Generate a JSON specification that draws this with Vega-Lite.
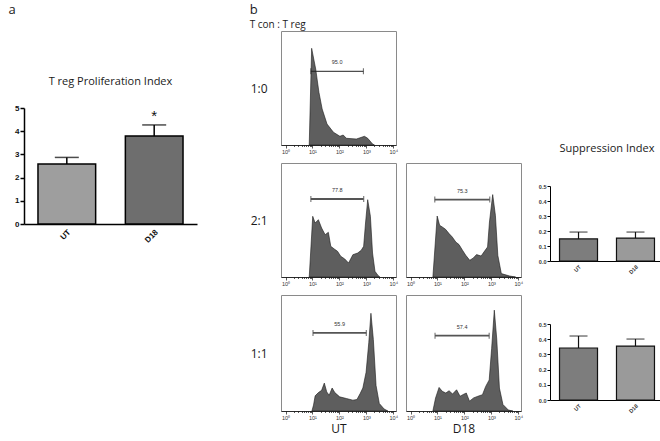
{
  "$schema": "https://vega.github.io/schema/vega-lite/v6.json",
  "background": "white",
  "padding": {"left": 8, "top": 3, "right": 2, "bottom": 1},
  "spacing": 52,
  "resolve": {"scale": {"color": "independent"}},
  "datasets": {
    "prolif": [
      {"group": "UT", "mean": 2.59, "upper": 2.87, "sig": ""},
      {"group": "D18", "mean": 3.79, "upper": 4.27, "sig": "*"}
    ],
    "supp": [
      {"ratio": "2:1", "group": "UT", "mean": 0.147, "upper": 0.193},
      {"ratio": "2:1", "group": "D18", "mean": 0.153, "upper": 0.193},
      {"ratio": "1:1", "group": "UT", "mean": 0.342, "upper": 0.421},
      {"ratio": "1:1", "group": "D18", "mean": 0.355, "upper": 0.401}
    ],
    "gates": [
      {"panel": "1:0", "x": 8.71, "xr": 776.2, "count": 73.7, "label": "95.0"},
      {"panel": "2:1 UT", "x": 8.71, "xr": 794.3, "count": 78, "label": "77.8"},
      {"panel": "2:1 D18", "x": 7.94, "xr": 871, "count": 77.4, "label": "75.3"},
      {"panel": "1:1 UT", "x": 10.47, "xr": 1000, "count": 79.4, "label": "55.9"},
      {"panel": "1:1 D18", "x": 8.13, "xr": 831.8, "count": 76.6, "label": "57.4"}
    ],
    "hist": [
      {"panel": "1:0", "x": 7.59, "count": 0},
      {"panel": "1:0", "x": 9.33, "count": 96.7},
      {"panel": "1:0", "x": 13.18, "count": 76},
      {"panel": "1:0", "x": 17.38, "count": 52.7},
      {"panel": "1:0", "x": 22.91, "count": 36},
      {"panel": "1:0", "x": 34.67, "count": 21},
      {"panel": "1:0", "x": 60.26, "count": 12.7},
      {"panel": "1:0", "x": 104.7, "count": 8.7},
      {"panel": "1:0", "x": 138, "count": 10},
      {"panel": "1:0", "x": 182, "count": 6.7},
      {"panel": "1:0", "x": 426.6, "count": 6},
      {"panel": "1:0", "x": 851.1, "count": 8.7},
      {"panel": "1:0", "x": 1122, "count": 6.7},
      {"panel": "1:0", "x": 1698, "count": 1},
      {"panel": "1:0", "x": 1995, "count": 0},

      {"panel": "2:1 UT", "x": 7.59, "count": 0},
      {"panel": "2:1 UT", "x": 10.23, "count": 60.7},
      {"panel": "2:1 UT", "x": 12.59, "count": 54},
      {"panel": "2:1 UT", "x": 16.6, "count": 57.3},
      {"panel": "2:1 UT", "x": 21.88, "count": 49},
      {"panel": "2:1 UT", "x": 29.51, "count": 42.3},
      {"panel": "2:1 UT", "x": 38.9, "count": 44.7},
      {"panel": "2:1 UT", "x": 47.86, "count": 30.7},
      {"panel": "2:1 UT", "x": 64.57, "count": 28},
      {"panel": "2:1 UT", "x": 85.11, "count": 25.7},
      {"panel": "2:1 UT", "x": 112.2, "count": 20.7},
      {"panel": "2:1 UT", "x": 158.5, "count": 18},
      {"panel": "2:1 UT", "x": 218.8, "count": 14},
      {"panel": "2:1 UT", "x": 316.2, "count": 22.3},
      {"panel": "2:1 UT", "x": 478.6, "count": 24},
      {"panel": "2:1 UT", "x": 645.7, "count": 26.7},
      {"panel": "2:1 UT", "x": 794.3, "count": 30.7},
      {"panel": "2:1 UT", "x": 933.3, "count": 54},
      {"panel": "2:1 UT", "x": 1122, "count": 77.3},
      {"panel": "2:1 UT", "x": 1413, "count": 60.7},
      {"panel": "2:1 UT", "x": 1698, "count": 24},
      {"panel": "2:1 UT", "x": 2089, "count": 5.7},
      {"panel": "2:1 UT", "x": 2630, "count": 2},
      {"panel": "2:1 UT", "x": 3162, "count": 0},

      {"panel": "2:1 D18", "x": 6.76, "count": 0},
      {"panel": "2:1 D18", "x": 9.77, "count": 61},
      {"panel": "2:1 D18", "x": 12.02, "count": 51.7},
      {"panel": "2:1 D18", "x": 15.14, "count": 50},
      {"panel": "2:1 D18", "x": 19.95, "count": 47.7},
      {"panel": "2:1 D18", "x": 26.92, "count": 43.4},
      {"panel": "2:1 D18", "x": 35.48, "count": 40},
      {"panel": "2:1 D18", "x": 47.86, "count": 35},
      {"panel": "2:1 D18", "x": 63.1, "count": 32.4},
      {"panel": "2:1 D18", "x": 85.11, "count": 26.7},
      {"panel": "2:1 D18", "x": 112.2, "count": 21.7},
      {"panel": "2:1 D18", "x": 158.5, "count": 16.7},
      {"panel": "2:1 D18", "x": 213.8, "count": 19},
      {"panel": "2:1 D18", "x": 281.8, "count": 22.4},
      {"panel": "2:1 D18", "x": 416.9, "count": 21},
      {"panel": "2:1 D18", "x": 588.8, "count": 26.7},
      {"panel": "2:1 D18", "x": 724.4, "count": 30},
      {"panel": "2:1 D18", "x": 851.1, "count": 55},
      {"panel": "2:1 D18", "x": 1122, "count": 82.4},
      {"panel": "2:1 D18", "x": 1413, "count": 61.7},
      {"panel": "2:1 D18", "x": 1738, "count": 21.7},
      {"panel": "2:1 D18", "x": 2344, "count": 3.4},
      {"panel": "2:1 D18", "x": 4786, "count": 1},
      {"panel": "2:1 D18", "x": 7943, "count": 0},

      {"panel": "1:1 UT", "x": 9.55, "count": 0},
      {"panel": "1:1 UT", "x": 10.96, "count": 6},
      {"panel": "1:1 UT", "x": 12.59, "count": 15.4},
      {"panel": "1:1 UT", "x": 16.6, "count": 18.7},
      {"panel": "1:1 UT", "x": 21.88, "count": 21},
      {"panel": "1:1 UT", "x": 27.54, "count": 28.4},
      {"panel": "1:1 UT", "x": 33.88, "count": 19.4},
      {"panel": "1:1 UT", "x": 41.69, "count": 16},
      {"panel": "1:1 UT", "x": 53.7, "count": 23.4},
      {"panel": "1:1 UT", "x": 67.61, "count": 18.7},
      {"panel": "1:1 UT", "x": 102.3, "count": 14.4},
      {"panel": "1:1 UT", "x": 182, "count": 12.7},
      {"panel": "1:1 UT", "x": 316.2, "count": 11},
      {"panel": "1:1 UT", "x": 446.7, "count": 11.7},
      {"panel": "1:1 UT", "x": 588.8, "count": 17.7},
      {"panel": "1:1 UT", "x": 741.3, "count": 23.4},
      {"panel": "1:1 UT", "x": 977.2, "count": 39.4},
      {"panel": "1:1 UT", "x": 1230, "count": 69.4},
      {"panel": "1:1 UT", "x": 1479, "count": 99.4},
      {"panel": "1:1 UT", "x": 1820, "count": 72.7},
      {"panel": "1:1 UT", "x": 2291, "count": 26},
      {"panel": "1:1 UT", "x": 3020, "count": 7.7},
      {"panel": "1:1 UT", "x": 4571, "count": 2},
      {"panel": "1:1 UT", "x": 6310, "count": 0},

      {"panel": "1:1 D18", "x": 6.76, "count": 0},
      {"panel": "1:1 D18", "x": 8.51, "count": 13.3},
      {"panel": "1:1 D18", "x": 11.48, "count": 24},
      {"panel": "1:1 D18", "x": 15.14, "count": 20},
      {"panel": "1:1 D18", "x": 20.42, "count": 18.3},
      {"panel": "1:1 D18", "x": 26.92, "count": 20.6},
      {"panel": "1:1 D18", "x": 36.31, "count": 17.3},
      {"panel": "1:1 D18", "x": 51.29, "count": 21.6},
      {"panel": "1:1 D18", "x": 69.18, "count": 15},
      {"panel": "1:1 D18", "x": 87.1, "count": 16.6},
      {"panel": "1:1 D18", "x": 117.5, "count": 18.3},
      {"panel": "1:1 D18", "x": 154.9, "count": 10},
      {"panel": "1:1 D18", "x": 218.8, "count": 13.3},
      {"panel": "1:1 D18", "x": 316.2, "count": 15},
      {"panel": "1:1 D18", "x": 467.7, "count": 16.6},
      {"panel": "1:1 D18", "x": 616.6, "count": 25},
      {"panel": "1:1 D18", "x": 831.8, "count": 31.6},
      {"panel": "1:1 D18", "x": 1023, "count": 63.3},
      {"panel": "1:1 D18", "x": 1288, "count": 102.6},
      {"panel": "1:1 D18", "x": 1585, "count": 73.3},
      {"panel": "1:1 D18", "x": 1995, "count": 23.3},
      {"panel": "1:1 D18", "x": 2692, "count": 6.6},
      {"panel": "1:1 D18", "x": 4266, "count": 1},
      {"panel": "1:1 D18", "x": 6310, "count": 0}
    ]
  },
  "hconcat": [
    {
      "title": {"text": "a", "anchor": "start", "fontSize": 13, "offset": 14, "dx": -6},
      "spacing": 20,
      "vconcat": [
        {"width": 10, "height": 25, "view": {"stroke": null}, "data": {"values": []}, "mark": "point", "encoding": {}},
        {
          "title": {"text": "T reg Proliferation Index", "fontSize": 11, "offset": 17},
          "width": 173,
          "height": 116,
          "view": {"stroke": null},
          "data": {"name": "prolif"},
          "resolve": {"axis": {"y": "independent"}},
          "encoding": {
            "x": {"field": "group", "type": "nominal", "sort": ["UT", "D18"],
              "scale": {"paddingInner": 0.34, "paddingOuter": 0.16},
              "axis": {"title": null, "labelAngle": -45, "labelFontWeight": "bold", "labelFontSize": 8, "labelColor": "#111", "domainColor": "#000", "domainWidth": 1.5, "ticks": false, "labelPadding": 4}}
          },
          "layer": [
            {"mark": {"type": "bar", "stroke": "#000", "strokeWidth": 1.5},
             "encoding": {
               "y": {"field": "mean", "type": "quantitative", "scale": {"domain": [0, 5], "nice": false},
                 "axis": {"title": null, "values": [0, 1, 2, 3, 4, 5], "labelFontWeight": "bold", "labelFontSize": 8, "labelColor": "#111", "domainColor": "#000", "domainWidth": 1.5, "tickColor": "#000", "tickWidth": 1.5, "tickSize": 4, "labelPadding": 1}},
               "color": {"field": "group", "type": "nominal", "scale": {"domain": ["UT", "D18"], "range": ["#9e9e9e", "#6e6e6e"]}, "legend": null}}},
            {"mark": {"type": "rule", "strokeWidth": 1.5, "color": "#000"},
             "encoding": {"y": {"field": "mean", "type": "quantitative", "scale": {"domain": [0, 5], "nice": false}, "axis": null}, "y2": {"field": "upper"}}},
            {"mark": {"type": "tick", "size": 24, "thickness": 1.5, "color": "#000"},
             "encoding": {"y": {"field": "upper", "type": "quantitative", "scale": {"domain": [0, 5], "nice": false}, "axis": null}}},
            {"mark": {"type": "text", "dy": -9, "fontSize": 15, "font": "Liberation Sans", "color": "#111"},
             "encoding": {"y": {"field": "upper", "type": "quantitative", "scale": {"domain": [0, 5], "nice": false}, "axis": null}, "text": {"field": "sig"}}}
          ]
        }
      ]
    },
    {
      "title": {"text": "b", "subtitle": "T con : T reg", "anchor": "start", "fontSize": 13, "subtitleFontSize": 10, "subtitleFont": "Open Sans", "subtitleColor": "#1a1a1a", "subtitlePadding": 3, "offset": 1},
      "spacing": 14,
      "hconcat": [
        {
          "spacing": 7,
          "vconcat": [
            {
              "width": 115, "height": 114,
              "resolve": {"axis": {"x": "independent", "y": "independent"}},
              "layer": [
                {"data": {"name": "hist"}, "transform": [{"filter": "datum.panel=='1:0'"}],
                 "mark": {"type": "area", "fill": "#5e5e5e", "stroke": "#1a1a1a", "strokeWidth": 0.6},
                 "encoding": {
                   "x": {"field": "x", "type": "quantitative", "scale": {"type": "log", "domain": [0.68, 12600], "nice": false},
                     "axis": {"title": null, "values": [1,2,3,4,5,6,7,8,9,10,20,30,40,50,60,70,80,90,100,200,300,400,500,600,700,800,900,1000,2000,3000,4000,5000,6000,7000,8000,9000,10000], "labelExpr": "datum.value==1?'10⁰':datum.value==10?'10¹':datum.value==100?'10²':datum.value==1000?'10³':datum.value==10000?'10⁴':''", "tickSize": {"condition": {"test": "indexof([1,10,100,1000,10000],datum.value)>=0", "value": 3}, "value": 1.5}, "labelFontSize": 5.5, "labelColor": "#333", "labelPadding": 1, "labelOverlap": false, "labelFlush": false, "domainColor": "#111", "tickColor": "#111", "tickWidth": 0.7, "domainWidth": 0.8}},
                   "y": {"field": "count", "type": "quantitative", "scale": {"domain": [0, 114], "nice": false},
                     "axis": {"title": "1:0", "titleAngle": 0, "titleAlign": "right", "titleBaseline": "middle", "titleFont": "Open Sans", "titleFontWeight": "normal", "titleFontSize": 12, "titleColor": "#1a1a1a", "titlePadding": 14, "labels": false, "ticks": false, "domain": false}}
                 }},
                {"data": {"name": "gates"}, "transform": [{"filter": "datum.panel=='1:0'"}, {"calculate": "sqrt(datum.x*datum.xr)", "as": "xm"}],
                 "resolve": {"axis": {"x": "independent", "y": "independent"}},
                 "encoding": {"y": {"field": "count", "type": "quantitative", "scale": {"domain": [0, 114], "nice": false}, "axis": null}},
                 "layer": [
                   {"mark": {"type": "rule", "stroke": "#222", "strokeWidth": 1}, "encoding": {"x": {"field": "x", "type": "quantitative", "scale": {"type": "log", "domain": [0.68, 12600], "nice": false}, "axis": null}, "x2": {"field": "xr"}}},
                   {"mark": {"type": "tick", "orient": "vertical", "size": 6, "thickness": 1, "color": "#222"}, "encoding": {"x": {"field": "x", "type": "quantitative", "scale": {"type": "log", "domain": [0.68, 12600], "nice": false}, "axis": null}}},
                   {"mark": {"type": "tick", "orient": "vertical", "size": 6, "thickness": 1, "color": "#222"}, "encoding": {"x": {"field": "xr", "type": "quantitative", "scale": {"type": "log", "domain": [0.68, 12600], "nice": false}, "axis": null}}},
                   {"mark": {"type": "text", "dy": -9, "fontSize": 5.5, "color": "#333"}, "encoding": {"x": {"field": "xm", "type": "quantitative", "scale": {"type": "log", "domain": [0.68, 12600], "nice": false}, "axis": null}, "text": {"field": "label"}}}
                 ]}
              ]
            },
            {
              "spacing": 6,
              "hconcat": [
                {
                  "width": 115, "height": 114,
                  "resolve": {"axis": {"x": "independent", "y": "independent"}},
                  "layer": [
                    {"data": {"name": "hist"}, "transform": [{"filter": "datum.panel=='2:1 UT'"}],
                     "mark": {"type": "area", "fill": "#5e5e5e", "stroke": "#1a1a1a", "strokeWidth": 0.6},
                     "encoding": {
                       "x": {"field": "x", "type": "quantitative", "scale": {"type": "log", "domain": [0.68, 12600], "nice": false},
                         "axis": {"title": null, "values": [1,2,3,4,5,6,7,8,9,10,20,30,40,50,60,70,80,90,100,200,300,400,500,600,700,800,900,1000,2000,3000,4000,5000,6000,7000,8000,9000,10000], "labelExpr": "datum.value==1?'10⁰':datum.value==10?'10¹':datum.value==100?'10²':datum.value==1000?'10³':datum.value==10000?'10⁴':''", "tickSize": {"condition": {"test": "indexof([1,10,100,1000,10000],datum.value)>=0", "value": 3}, "value": 1.5}, "labelFontSize": 5.5, "labelColor": "#333", "labelPadding": 1, "labelOverlap": false, "labelFlush": false, "domainColor": "#111", "tickColor": "#111", "tickWidth": 0.7, "domainWidth": 0.8}},
                       "y": {"field": "count", "type": "quantitative", "scale": {"domain": [0, 114], "nice": false},
                         "axis": {"title": "2:1", "titleAngle": 0, "titleAlign": "right", "titleBaseline": "middle", "titleFont": "Open Sans", "titleFontWeight": "normal", "titleFontSize": 12, "titleColor": "#1a1a1a", "titlePadding": 14, "labels": false, "ticks": false, "domain": false}}
                     }},
                    {"data": {"name": "gates"}, "transform": [{"filter": "datum.panel=='2:1 UT'"}, {"calculate": "sqrt(datum.x*datum.xr)", "as": "xm"}],
                     "resolve": {"axis": {"x": "independent", "y": "independent"}},
                     "encoding": {"y": {"field": "count", "type": "quantitative", "scale": {"domain": [0, 114], "nice": false}, "axis": null}},
                     "layer": [
                       {"mark": {"type": "rule", "stroke": "#555", "strokeWidth": 1.8}, "encoding": {"x": {"field": "x", "type": "quantitative", "scale": {"type": "log", "domain": [0.68, 12600], "nice": false}, "axis": null}, "x2": {"field": "xr"}}},
                       {"mark": {"type": "tick", "orient": "vertical", "size": 6, "thickness": 1.3, "color": "#555"}, "encoding": {"x": {"field": "x", "type": "quantitative", "scale": {"type": "log", "domain": [0.68, 12600], "nice": false}, "axis": null}}},
                       {"mark": {"type": "tick", "orient": "vertical", "size": 6, "thickness": 1.3, "color": "#555"}, "encoding": {"x": {"field": "xr", "type": "quantitative", "scale": {"type": "log", "domain": [0.68, 12600], "nice": false}, "axis": null}}},
                       {"mark": {"type": "text", "dy": -9, "fontSize": 5.5, "color": "#333"}, "encoding": {"x": {"field": "xm", "type": "quantitative", "scale": {"type": "log", "domain": [0.68, 12600], "nice": false}, "axis": null}, "text": {"field": "label"}}}
                     ]}
                  ]
                },
                {
                  "width": 115, "height": 114,
                  "resolve": {"axis": {"x": "independent", "y": "independent"}},
                  "layer": [
                    {"data": {"name": "hist"}, "transform": [{"filter": "datum.panel=='2:1 D18'"}],
                     "mark": {"type": "area", "fill": "#5e5e5e", "stroke": "#1a1a1a", "strokeWidth": 0.6},
                     "encoding": {
                       "x": {"field": "x", "type": "quantitative", "scale": {"type": "log", "domain": [0.68, 12600], "nice": false},
                         "axis": {"title": null, "values": [1,2,3,4,5,6,7,8,9,10,20,30,40,50,60,70,80,90,100,200,300,400,500,600,700,800,900,1000,2000,3000,4000,5000,6000,7000,8000,9000,10000], "labelExpr": "datum.value==1?'10⁰':datum.value==10?'10¹':datum.value==100?'10²':datum.value==1000?'10³':datum.value==10000?'10⁴':''", "tickSize": {"condition": {"test": "indexof([1,10,100,1000,10000],datum.value)>=0", "value": 3}, "value": 1.5}, "labelFontSize": 5.5, "labelColor": "#333", "labelPadding": 1, "labelOverlap": false, "labelFlush": false, "domainColor": "#111", "tickColor": "#111", "tickWidth": 0.7, "domainWidth": 0.8}},
                       "y": {"field": "count", "type": "quantitative", "scale": {"domain": [0, 114], "nice": false}, "axis": null}
                     }},
                    {"data": {"name": "gates"}, "transform": [{"filter": "datum.panel=='2:1 D18'"}, {"calculate": "sqrt(datum.x*datum.xr)", "as": "xm"}],
                     "resolve": {"axis": {"x": "independent", "y": "independent"}},
                     "encoding": {"y": {"field": "count", "type": "quantitative", "scale": {"domain": [0, 114], "nice": false}, "axis": null}},
                     "layer": [
                       {"mark": {"type": "rule", "stroke": "#555", "strokeWidth": 1.8}, "encoding": {"x": {"field": "x", "type": "quantitative", "scale": {"type": "log", "domain": [0.68, 12600], "nice": false}, "axis": null}, "x2": {"field": "xr"}}},
                       {"mark": {"type": "tick", "orient": "vertical", "size": 6, "thickness": 1.3, "color": "#555"}, "encoding": {"x": {"field": "x", "type": "quantitative", "scale": {"type": "log", "domain": [0.68, 12600], "nice": false}, "axis": null}}},
                       {"mark": {"type": "tick", "orient": "vertical", "size": 6, "thickness": 1.3, "color": "#555"}, "encoding": {"x": {"field": "xr", "type": "quantitative", "scale": {"type": "log", "domain": [0.68, 12600], "nice": false}, "axis": null}}},
                       {"mark": {"type": "text", "dy": -9, "fontSize": 5.5, "color": "#333"}, "encoding": {"x": {"field": "xm", "type": "quantitative", "scale": {"type": "log", "domain": [0.68, 12600], "nice": false}, "axis": null}, "text": {"field": "label"}}}
                     ]}
                  ]
                }
              ]
            },
            {
              "spacing": 6,
              "hconcat": [
                {
                  "width": 115, "height": 116,
                  "resolve": {"axis": {"x": "independent", "y": "independent"}},
                  "layer": [
                    {"data": {"name": "hist"}, "transform": [{"filter": "datum.panel=='1:1 UT'"}],
                     "mark": {"type": "area", "fill": "#5e5e5e", "stroke": "#1a1a1a", "strokeWidth": 0.6},
                     "encoding": {
                       "x": {"field": "x", "type": "quantitative", "scale": {"type": "log", "domain": [0.68, 12600], "nice": false},
                         "axis": {"title": "UT", "titleFont": "Open Sans", "titleFontWeight": "normal", "titleFontSize": 12, "titleColor": "#1a1a1a", "titlePadding": 3, "values": [1,2,3,4,5,6,7,8,9,10,20,30,40,50,60,70,80,90,100,200,300,400,500,600,700,800,900,1000,2000,3000,4000,5000,6000,7000,8000,9000,10000], "labelExpr": "datum.value==1?'10⁰':datum.value==10?'10¹':datum.value==100?'10²':datum.value==1000?'10³':datum.value==10000?'10⁴':''", "tickSize": {"condition": {"test": "indexof([1,10,100,1000,10000],datum.value)>=0", "value": 3}, "value": 1.5}, "labelFontSize": 5.5, "labelColor": "#333", "labelPadding": 1, "labelOverlap": false, "labelFlush": false, "domainColor": "#111", "tickColor": "#111", "tickWidth": 0.7, "domainWidth": 0.8}},
                       "y": {"field": "count", "type": "quantitative", "scale": {"domain": [0, 118], "nice": false},
                         "axis": {"title": "1:1", "titleAngle": 0, "titleAlign": "right", "titleBaseline": "middle", "titleFont": "Open Sans", "titleFontWeight": "normal", "titleFontSize": 12, "titleColor": "#1a1a1a", "titlePadding": 14, "labels": false, "ticks": false, "domain": false}}
                     }},
                    {"data": {"name": "gates"}, "transform": [{"filter": "datum.panel=='1:1 UT'"}, {"calculate": "sqrt(datum.x*datum.xr)", "as": "xm"}],
                     "resolve": {"axis": {"x": "independent", "y": "independent"}},
                     "encoding": {"y": {"field": "count", "type": "quantitative", "scale": {"domain": [0, 118], "nice": false}, "axis": null}},
                     "layer": [
                       {"mark": {"type": "rule", "stroke": "#555", "strokeWidth": 1.8}, "encoding": {"x": {"field": "x", "type": "quantitative", "scale": {"type": "log", "domain": [0.68, 12600], "nice": false}, "axis": null}, "x2": {"field": "xr"}}},
                       {"mark": {"type": "tick", "orient": "vertical", "size": 6, "thickness": 1.3, "color": "#555"}, "encoding": {"x": {"field": "x", "type": "quantitative", "scale": {"type": "log", "domain": [0.68, 12600], "nice": false}, "axis": null}}},
                       {"mark": {"type": "tick", "orient": "vertical", "size": 6, "thickness": 1.3, "color": "#555"}, "encoding": {"x": {"field": "xr", "type": "quantitative", "scale": {"type": "log", "domain": [0.68, 12600], "nice": false}, "axis": null}}},
                       {"mark": {"type": "text", "dy": -9, "fontSize": 5.5, "color": "#333"}, "encoding": {"x": {"field": "xm", "type": "quantitative", "scale": {"type": "log", "domain": [0.68, 12600], "nice": false}, "axis": null}, "text": {"field": "label"}}}
                     ]}
                  ]
                },
                {
                  "width": 115, "height": 116,
                  "resolve": {"axis": {"x": "independent", "y": "independent"}},
                  "layer": [
                    {"data": {"name": "hist"}, "transform": [{"filter": "datum.panel=='1:1 D18'"}],
                     "mark": {"type": "area", "fill": "#5e5e5e", "stroke": "#1a1a1a", "strokeWidth": 0.6},
                     "encoding": {
                       "x": {"field": "x", "type": "quantitative", "scale": {"type": "log", "domain": [0.68, 12600], "nice": false},
                         "axis": {"title": "D18", "titleFont": "Open Sans", "titleFontWeight": "normal", "titleFontSize": 12, "titleColor": "#1a1a1a", "titlePadding": 3, "values": [1,2,3,4,5,6,7,8,9,10,20,30,40,50,60,70,80,90,100,200,300,400,500,600,700,800,900,1000,2000,3000,4000,5000,6000,7000,8000,9000,10000], "labelExpr": "datum.value==1?'10⁰':datum.value==10?'10¹':datum.value==100?'10²':datum.value==1000?'10³':datum.value==10000?'10⁴':''", "tickSize": {"condition": {"test": "indexof([1,10,100,1000,10000],datum.value)>=0", "value": 3}, "value": 1.5}, "labelFontSize": 5.5, "labelColor": "#333", "labelPadding": 1, "labelOverlap": false, "labelFlush": false, "domainColor": "#111", "tickColor": "#111", "tickWidth": 0.7, "domainWidth": 0.8}},
                       "y": {"field": "count", "type": "quantitative", "scale": {"domain": [0, 118], "nice": false}, "axis": null}
                     }},
                    {"data": {"name": "gates"}, "transform": [{"filter": "datum.panel=='1:1 D18'"}, {"calculate": "sqrt(datum.x*datum.xr)", "as": "xm"}],
                     "resolve": {"axis": {"x": "independent", "y": "independent"}},
                     "encoding": {"y": {"field": "count", "type": "quantitative", "scale": {"domain": [0, 118], "nice": false}, "axis": null}},
                     "layer": [
                       {"mark": {"type": "rule", "stroke": "#555", "strokeWidth": 1.8}, "encoding": {"x": {"field": "x", "type": "quantitative", "scale": {"type": "log", "domain": [0.68, 12600], "nice": false}, "axis": null}, "x2": {"field": "xr"}}},
                       {"mark": {"type": "tick", "orient": "vertical", "size": 6, "thickness": 1.3, "color": "#555"}, "encoding": {"x": {"field": "x", "type": "quantitative", "scale": {"type": "log", "domain": [0.68, 12600], "nice": false}, "axis": null}}},
                       {"mark": {"type": "tick", "orient": "vertical", "size": 6, "thickness": 1.3, "color": "#555"}, "encoding": {"x": {"field": "xr", "type": "quantitative", "scale": {"type": "log", "domain": [0.68, 12600], "nice": false}, "axis": null}}},
                       {"mark": {"type": "text", "dy": -9, "fontSize": 5.5, "color": "#333"}, "encoding": {"x": {"field": "xm", "type": "quantitative", "scale": {"type": "log", "domain": [0.68, 12600], "nice": false}, "axis": null}, "text": {"field": "label"}}}
                     ]}
                  ]
                }
              ]
            }
          ]
        },
        {
          "spacing": 46,
          "resolve": {"scale": {"color": "shared"}},
          "vconcat": [
            {"width": 10, "height": 66, "view": {"stroke": null}, "data": {"values": []}, "mark": "point", "encoding": {}},
            {
              "title": {"text": "Suppression Index", "fontSize": 11, "offset": 30},
              "width": 114, "height": 75,
              "view": {"stroke": null},
              "data": {"name": "supp"},
              "transform": [{"filter": "datum.ratio=='2:1'"}],
              "resolve": {"axis": {"y": "independent"}},
              "encoding": {
                "x": {"field": "group", "type": "nominal", "sort": ["UT", "D18"],
                  "scale": {"paddingInner": 0.333, "paddingOuter": 0.167},
                  "axis": {"title": null, "labelAngle": -45, "labelFontWeight": "bold", "labelFontSize": 5.5, "labelColor": "#333", "domainColor": "#000", "domainWidth": 1, "ticks": false, "labelPadding": 3}}
              },
              "layer": [
                {"mark": {"type": "bar", "stroke": "#111", "strokeWidth": 1.2},
                 "encoding": {
                   "y": {"field": "mean", "type": "quantitative", "scale": {"domain": [0, 0.5], "nice": false},
                     "axis": {"title": null, "values": [0, 0.1, 0.2, 0.3, 0.4, 0.5], "format": ".1f", "labelFontWeight": "bold", "labelFontSize": 5.5, "labelColor": "#333", "domainColor": "#000", "domainWidth": 1, "tickColor": "#000", "tickWidth": 1, "tickSize": 3, "labelPadding": 1}},
                   "color": {"field": "group", "type": "nominal", "scale": {"domain": ["UT", "D18"], "range": ["#7d7d7d", "#9a9a9a"]}, "legend": null}}},
                {"mark": {"type": "rule", "strokeWidth": 1.2, "color": "#111"},
                 "encoding": {"y": {"field": "mean", "type": "quantitative", "scale": {"domain": [0, 0.5], "nice": false}, "axis": null}, "y2": {"field": "upper"}}},
                {"mark": {"type": "tick", "size": 18, "thickness": 1.2, "color": "#111"},
                 "encoding": {"y": {"field": "upper", "type": "quantitative", "scale": {"domain": [0, 0.5], "nice": false}, "axis": null}}}
              ]
            },
            {
              "width": 114, "height": 76,
              "view": {"stroke": null},
              "data": {"name": "supp"},
              "transform": [{"filter": "datum.ratio=='1:1'"}],
              "resolve": {"axis": {"y": "independent"}},
              "encoding": {
                "x": {"field": "group", "type": "nominal", "sort": ["UT", "D18"],
                  "scale": {"paddingInner": 0.333, "paddingOuter": 0.167},
                  "axis": {"title": null, "labelAngle": -45, "labelFontWeight": "bold", "labelFontSize": 5.5, "labelColor": "#333", "domainColor": "#000", "domainWidth": 1, "ticks": false, "labelPadding": 3}}
              },
              "layer": [
                {"mark": {"type": "bar", "stroke": "#111", "strokeWidth": 1.2},
                 "encoding": {
                   "y": {"field": "mean", "type": "quantitative", "scale": {"domain": [0, 0.5], "nice": false},
                     "axis": {"title": null, "values": [0, 0.1, 0.2, 0.3, 0.4, 0.5], "format": ".1f", "labelFontWeight": "bold", "labelFontSize": 5.5, "labelColor": "#333", "domainColor": "#000", "domainWidth": 1, "tickColor": "#000", "tickWidth": 1, "tickSize": 3, "labelPadding": 1}},
                   "color": {"field": "group", "type": "nominal", "scale": {"domain": ["UT", "D18"], "range": ["#7d7d7d", "#9a9a9a"]}, "legend": null}}},
                {"mark": {"type": "rule", "strokeWidth": 1.2, "color": "#111"},
                 "encoding": {"y": {"field": "mean", "type": "quantitative", "scale": {"domain": [0, 0.5], "nice": false}, "axis": null}, "y2": {"field": "upper"}}},
                {"mark": {"type": "tick", "size": 18, "thickness": 1.2, "color": "#111"},
                 "encoding": {"y": {"field": "upper", "type": "quantitative", "scale": {"domain": [0, 0.5], "nice": false}, "axis": null}}}
              ]
            }
          ]
        }
      ]
    }
  ],
  "config": {
    "view": {"stroke": "#8a8a8a", "strokeWidth": 1},
    "font": "Liberation Sans",
    "title": {"font": "Open Sans", "fontWeight": "normal", "fontSize": 11, "color": "#1a1a1a"},
    "axis": {"grid": false}
  }
}
